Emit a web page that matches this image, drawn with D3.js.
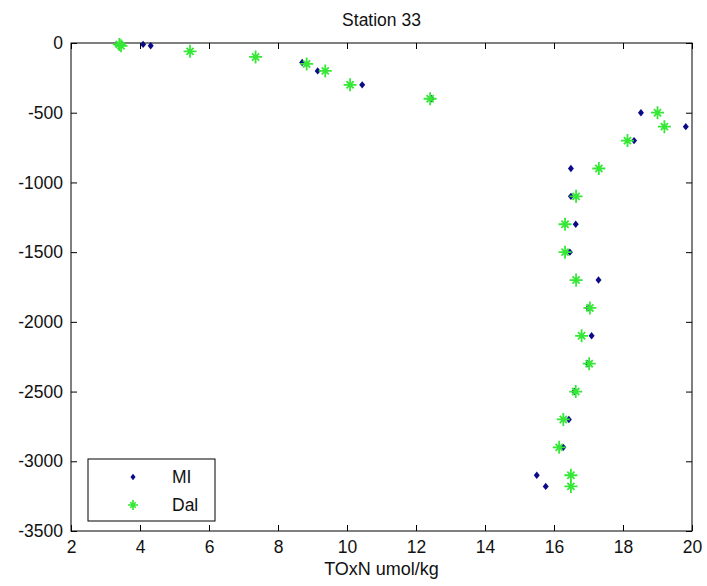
<!DOCTYPE html>
<html>
<head>
<meta charset="utf-8">
<script src="https://cdn.jsdelivr.net/npm/d3@7/dist/d3.min.js"></script>
<style>
  body { margin: 0; background: #fff; }
  svg { display: block; }
  text { font-family: "Liberation Sans", Arial, sans-serif; fill: #111; }
</style>
</head>
<body>
<svg id="chart" width="707" height="586"></svg>
<script>
// ---- data ----
const miDepth = [-10, -20, -140, -200, -300, -400, -500, -600, -700, -900, -1100, -1300, -1500, -1700, -1900, -2100, -2300, -2500, -2700, -2900, -3100, -3180];
const miToxn  = [4.09, 4.31, 8.70, 9.15, 10.44, 12.45, 18.52, 19.82, 18.32, 16.49, 16.49, 16.63, 16.46, 17.29, 16.99, 17.09, 16.98, 16.59, 16.43, 16.27, 15.50, 15.76];
const dalDepth = [-10, -20, -60, -100, -150, -200, -300, -400, -500, -600, -700, -900, -1100, -1300, -1500, -1700, -1900, -2100, -2300, -2500, -2700, -2900, -3100, -3180];
const dalToxn  = [3.40, 3.45, 5.45, 7.35, 8.83, 9.37, 10.09, 12.41, 19.00, 19.20, 18.13, 17.30, 16.64, 16.32, 16.32, 16.64, 17.04, 16.80, 17.02, 16.63, 16.27, 16.15, 16.49, 16.49];
const xTicks = [2, 4, 6, 8, 10, 12, 14, 16, 18, 20];
const yTicks = [0, -500, -1000, -1500, -2000, -2500, -3000, -3500];
const seriesNames = ["MI", "Dal"];
const titleText = "Station 33";
const xLabelText = "TOxN umol/kg";

// ---- layout ----
const W = 707, H = 586;
const m = { left: 71, right: 15, top: 43, bottom: 55 };
const svg = d3.select("#chart");
const x = d3.scaleLinear().domain([2, 20]).range([m.left, W - m.right]);
const y = d3.scaleLinear().domain([-3500, 0]).range([H - m.bottom, m.top]);
const tickLen = 6;
const blue = "#0b0b8a", green = "#35e835";
const fmt = d => String(d);

const g = svg.append("g");

// box
g.append("rect")
  .attr("x", x(2)).attr("y", y(0))
  .attr("width", x(20) - x(2)).attr("height", y(-3500) - y(0))
  .attr("fill", "none").attr("stroke", "#000").attr("stroke-width", 1);

// axes with inward ticks
const xAxisB = d3.axisBottom(x).tickValues(xTicks).tickSizeInner(-tickLen).tickSizeOuter(0).tickPadding(10).tickFormat(fmt);
const xAxisT = d3.axisTop(x).tickValues(xTicks).tickSizeInner(-tickLen).tickSizeOuter(0).tickFormat("");
const yAxisL = d3.axisLeft(y).tickValues(yTicks).tickSizeInner(-tickLen).tickSizeOuter(0).tickPadding(8).tickFormat(fmt);
const yAxisR = d3.axisRight(y).tickValues(yTicks).tickSizeInner(-tickLen).tickSizeOuter(0).tickFormat("");

function styleAxis(sel) {
  sel.select(".domain").remove();
  sel.selectAll(".tick line").attr("stroke", "#000");
  sel.selectAll(".tick text").style("font-size", "17.5px").attr("fill", "#111");
}
g.append("g").attr("transform", `translate(0,${y(-3500)})`).call(xAxisB).call(styleAxis);
g.append("g").attr("transform", `translate(0,${y(0)})`).call(xAxisT).call(styleAxis);
g.append("g").attr("transform", `translate(${x(2)},0)`).call(yAxisL).call(styleAxis);
g.append("g").attr("transform", `translate(${x(20)},0)`).call(yAxisR).call(styleAxis);

// markers
function diamond(s) { return `M0,${-3.7*s}L${3*s},0L0,${3.7*s}L${-3*s},0Z`; }
function star(r) {
  const d = r * 0.55;
  return `M${-r},0L${r},0M0,${-r}L0,${r}M${-d},${-d}L${d},${d}M${-d},${d}L${d},${-d}`;
}

const miData = miToxn.map((v, i) => ({ x: v, y: miDepth[i] }));
const dalData = dalToxn.map((v, i) => ({ x: v, y: dalDepth[i] }));

g.append("g").selectAll("path").data(miData).join("path")
  .attr("transform", d => `translate(${x(d.x)},${y(d.y)})`)
  .attr("d", diamond(1)).attr("fill", blue).attr("stroke", "none");

g.append("g").selectAll("path").data(dalData).join("path")
  .attr("transform", d => `translate(${x(d.x)},${y(d.y)})`)
  .attr("d", star(6.5)).attr("fill", "none").attr("stroke", green).attr("stroke-width", 1.8);

// legend
const lg = g.append("g");
lg.append("rect").attr("x", 88).attr("y", 459).attr("width", 127).attr("height", 62)
  .attr("fill", "#fff").attr("stroke", "#000").attr("stroke-width", 1);
lg.append("path").attr("transform", "translate(133,477)").attr("d", diamond(0.85)).attr("fill", blue);
lg.append("path").attr("transform", "translate(133,505)").attr("d", star(5)).attr("fill", "none").attr("stroke", green).attr("stroke-width", 1.7);
lg.selectAll("text.leg").data(seriesNames).join("text").attr("class", "leg")
  .attr("x", 172).attr("y", (d, i) => 483 + i * 28)
  .style("font-size", "17.5px").text(d => d);

// title and label
g.append("text").attr("x", (x(2) + x(20)) / 2).attr("y", 26).attr("text-anchor", "middle")
  .style("font-size", "17.5px").text(titleText);
g.append("text").attr("x", (x(2) + x(20)) / 2).attr("y", 575).attr("text-anchor", "middle")
  .style("font-size", "18px").text(xLabelText);
</script>
</body>
</html>
